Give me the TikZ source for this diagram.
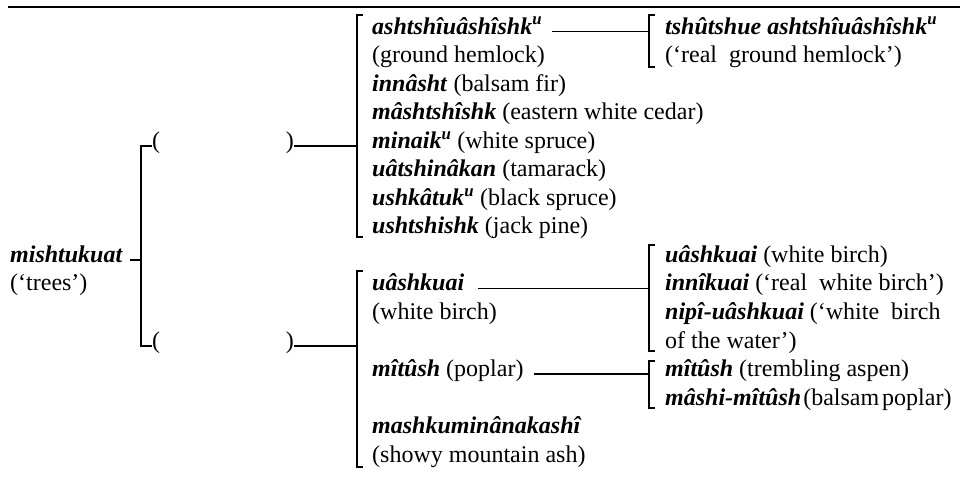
\documentclass[tikz,border=0pt]{standalone}
\usepackage{fontspec}
\setmainfont{Liberation Serif}
\newcommand{\bi}[1]{\textbf{\textit{#1}}}
\newcommand{\supu}{\textsuperscript{u}}
\begin{document}
\begin{tikzpicture}[x=1pt,y=-1pt,
  txt/.style={anchor=base west, inner sep=0pt, font=\fontsize{24}{28}\selectfont, text height=0.7em, text depth=0.22em},
  txtr/.style={txt, anchor=base east},
  ln/.style={line width=1.7pt},
  rule/.style={line width=1.4pt}]
\useasboundingbox (0,0) rectangle (962,493);
% top rule
\coordinate (ruleL) at (8,7);
\coordinate (ruleR) at (960,7);
\draw[rule] (ruleL) -- (ruleR);

% root
\node[txt] (root) at (10,262.4) {\bi{mishtukuat}};
\node[txt] (rootg) at (10,290.95) {(‘trees’)};
\coordinate (vt) at (141,142.4);
\coordinate (vb) at (141,342.2);

% parentheses
\node[txt] (lp1) at (152,148.2) {(};
\node[txtr] (rp1) at (294,148.2) {)};
\node[txt] (lp2) at (152,348.05) {(};
\node[txtr] (rp2) at (294,348.05) {)};

% bracket x positions
\coordinate (brA) at (357,16);
\coordinate (brB) at (649,16);

% top list
\node[txt] (t0) at (372,34.0) {\bi{ashtshîuâshîshk\supu}};
\node[txt] (t1) at (372,62.55) {(ground hemlock)};
\node[txt] (t2) at (372,91.1) {\bi{innâsht} (balsam fir)};
\node[txt] (t3) at (372,119.65) {\bi{mâshtshîshk} (eastern white cedar)};
\node[txt] (t4) at (372,148.2) {\bi{minaik\supu} (white spruce)};
\node[txt] (t5) at (372,176.75) {\bi{uâtshinâkan} (tamarack)};
\node[txt] (t6) at (372,205.3) {\bi{ushkâtuk\supu} (black spruce)};
\node[txt] (t7) at (372,233.85) {\bi{ushtshishk} (jack pine)};

% right top
\node[txt] (r0) at (665,34.0) {\bi{tshûtshue ashtshîuâshîshk\supu}};
\node[txt] (r1) at (665,62.55) {(‘real\ \ ground hemlock’)};

% bottom-left list
\node[txt] (b0) at (372,290.95) {\bi{uâshkuai}};
\node[txt] (b1) at (372,319.5) {(white birch)};
\node[txt] (b2) at (372,376.6) {\bi{mîtûsh} (poplar)};
\node[txt] (b3) at (372,433.7) {\bi{mashkuminânakashî}};
\node[txt] (b4) at (372,462.25) {(showy mountain ash)};

% right mid
\node[txt] (m0) at (665,262.4) {\bi{uâshkuai} (white birch)};
\node[txt] (m1) at (665,290.95) {\bi{innîkuai} (‘real\ \ white birch’)};
\node[txt] (m2) at (665,319.5) {\bi{nipî-uâshkuai} (‘white\ \ birch};
\node[txt] (m3) at (665,348.05) {of the water’)};

% right bottom
\node[txt] (n0) at (665,376.6) {\bi{mîtûsh} (trembling aspen)};
\node[txt] (n1) at (665,405.15) {\bi{mâshi-mîtûsh}\hspace{2pt}(balsam\hspace{3pt}poplar)};

% brackets
\draw[ln] (363,15) -- (357,15) -- (357,237) -- (363,237);
\draw[ln] (655,15) -- (649,15) -- (649,67) -- (655,67);
\draw[ln] (363,271) -- (357,271) -- (357,467) -- (363,467);
\draw[ln] (655,245) -- (649,245) -- (649,351) -- (655,351);
\draw[ln] (655,361) -- (649,361) -- (649,408) -- (655,408);

% connectors
\draw[ln] (lp1.west) -- (lp1.west -| vt) -- (lp2.west -| vt) -- (lp2.west);
\draw[ln] ([xshift=7pt]root.east) -- (root.east -| vt);
\draw[ln] (rp1.east) -- (rp1.east -| brA);
\draw[ln] (rp2.east) -- (rp2.east -| brA);
\draw[ln] ([xshift=10pt]t0.east) -- (t0.east -| brB);
\draw[ln] ([xshift=14pt]b0.east) -- (b0.east -| brB);
\draw[ln] ([xshift=10pt]b2.east) -- (b2.east -| brB);
\end{tikzpicture}
\end{document}
